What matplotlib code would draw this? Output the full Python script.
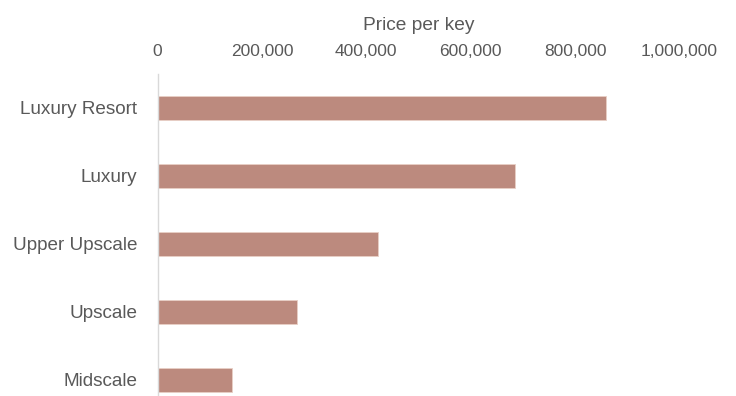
import matplotlib
matplotlib.use("Agg")
import matplotlib.pyplot as plt
from matplotlib.ticker import FuncFormatter

categories = ["Luxury Resort", "Luxury", "Upper Upscale", "Upscale", "Midscale"]
values = [860000, 685000, 422000, 268000, 143000]
xticks = [0, 200000, 400000, 600000, 800000, 1000000]

plt.rcParams['font.family'] = ['Liberation Sans', 'DejaVu Sans']

fig = plt.figure(figsize=(7.36, 3.96), dpi=100)
W, H = 736, 396
left, right, top, bottom = 157.5, 679.5, 74, 414
ax = fig.add_axes([left / W, 1 - bottom / H, (right - left) / W, (bottom - top) / H])

y = list(range(len(categories)))
ax.barh(y, values, height=0.35, color="#BC8A7E", edgecolor="#E8CFC6", linewidth=0.6)
ax.set_ylim(len(categories) - 0.5, -0.5)
ax.set_yticks(y)
ax.set_yticklabels(categories)
ax.set_xlim(0, 1000000)
ax.set_xticks(xticks)
ax.xaxis.set_major_formatter(FuncFormatter(lambda v, p: f"{int(v):,}"))
ax.xaxis.tick_top()
ax.xaxis.set_label_position("top")

gray = "#595959"
ax.set_xlabel("Price per key", fontsize=13.8, color=gray, labelpad=10)
ax.tick_params(axis="x", length=0, pad=11, labelsize=12.5, labelcolor=gray)
ax.tick_params(axis="y", length=0, pad=14.5, labelsize=13.6, labelcolor=gray)
for s in ["top", "right", "bottom"]:
    ax.spines[s].set_visible(False)
ax.spines["left"].set_color("#D9D9D9")
ax.spines["left"].set_linewidth(1.0)

fig.savefig("out.png", dpi=100)
